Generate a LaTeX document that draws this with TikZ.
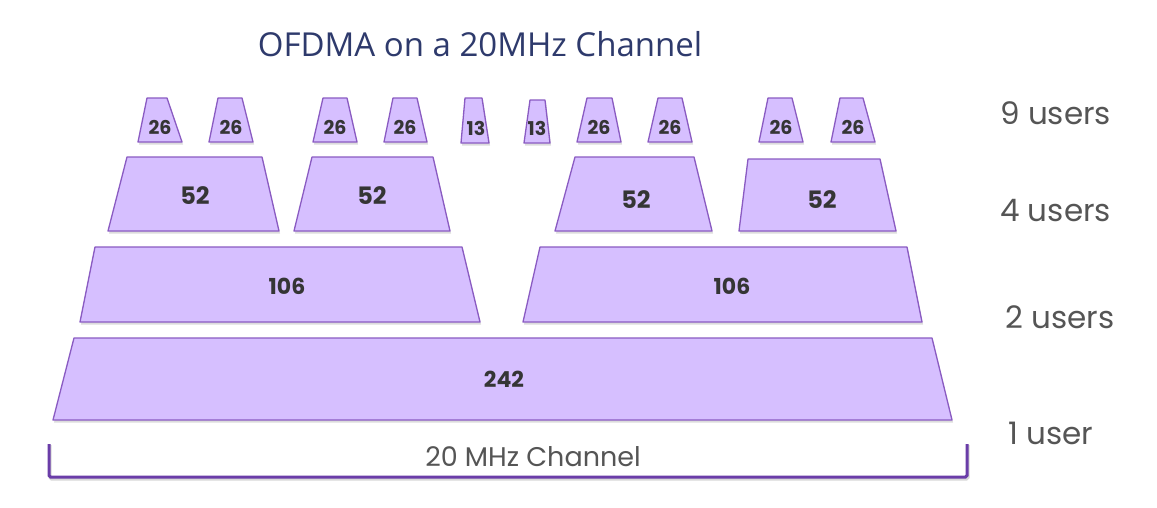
\documentclass[tikz,border=0pt]{standalone}
\usepackage{fontspec}
\setmainfont{Poppins}
\newfontfamily\titlefont{Open Sans}
\definecolor{rufill}{HTML}{D6BFFF}
\definecolor{rudraw}{HTML}{8A5BC2}
\definecolor{titlecol}{HTML}{2E3A6C}
\definecolor{txtgray}{HTML}{353535}
\definecolor{lblgray}{HTML}{555555}
\definecolor{brk}{HTML}{6A3DA8}
\newcommand\rutrap[6]{%
  \fill[black!30,opacity=0.45] (#1+1,#5+2) -- (#2+1,#5+2) -- (#4+1,#6+2.5) -- (#3+1,#6+2.5) -- cycle;
  \filldraw[fill=rufill,draw=rudraw,line width=1.3pt,line join=round] (#1,#5) -- (#2,#5) -- (#4,#6) -- (#3,#6) -- cycle;}
\tikzset{
  rulbl/.style={text=txtgray,font=\bfseries\fontsize{#1}{#1}\selectfont,inner sep=0pt},
  users/.style={text=lblgray,font=\fontsize{31}{31}\selectfont,anchor=west,inner sep=0pt},
}
\begin{document}
\begin{tikzpicture}[x=1pt,y=-1pt]
\useasboundingbox (0,0) rectangle (1157,507);
\fill[white] (0,0) rectangle (1157,507);
\node[text=titlecol,font=\titlefont\fontsize{33}{33}\selectfont,inner sep=0pt] (title) at (480,44) {OFDMA on a 20MHz Channel};
% row 1: 26-tone RUs
\rutrap{147}{167}{138}{182}{98}{142}
\rutrap{218}{242}{209}{253}{98}{142}
\rutrap{323}{347}{313}{357}{98}{142}
\rutrap{393}{417}{384}{427}{98}{142}
\rutrap{465}{482}{461}{489}{98}{143}
\rutrap{530}{545}{524}{550}{100}{143}
\rutrap{587}{612}{577}{621}{98}{142}
\rutrap{658}{682}{648}{692}{98}{142}
\rutrap{768}{792}{759}{803}{98}{142}
\rutrap{840}{863}{831}{875}{98}{142}
\node[rulbl=19] (a1) at (160,127) {26};
\node[rulbl=19] (a2) at (231,127) {26};
\node[rulbl=19] (a3) at (335,127) {26};
\node[rulbl=19] (a4) at (405,127) {26};
\node[rulbl=19] (a5) at (476,128) {13};
\node[rulbl=19] (a6) at (537,128) {13};
\node[rulbl=19] (a7) at (599,127) {26};
\node[rulbl=19] (a8) at (670,127) {26};
\node[rulbl=19] (a9) at (781,127) {26};
\node[rulbl=19] (a10) at (853,127) {26};
% row 2: 52-tone RUs
\rutrap{127}{262}{108}{279}{157}{231}
\rutrap{312}{433}{294}{450}{157}{231}
\rutrap{575}{694}{555}{712}{157}{231}
\rutrap{748}{880}{739}{896}{159}{231}
\node[rulbl=24] (b1) at (195,196) {52};
\node[rulbl=24] (b2) at (372,196) {52};
\node[rulbl=24] (b3) at (636,200) {52};
\node[rulbl=24] (b4) at (822,200) {52};
% row 3: 106-tone RUs
\rutrap{95}{462}{80}{480}{247}{322}
\rutrap{540}{907}{523}{922}{247}{322}
\node[rulbl=22] (c1) at (287,286) {106};
\node[rulbl=22] (c2) at (732,286) {106};
% row 4: 242-tone RU
\rutrap{74}{932}{53}{952}{338}{420}
\node[rulbl=22] (d1) at (504,379) {242};
% bracket
\draw[black!30,opacity=0.5,line width=3pt,rounded corners=1.5pt] (50,445) -- (50,479) -- (968,479) -- (968,445);
\draw[brk,line width=3pt,rounded corners=1.5pt] (49,444) -- (49,477) -- (967,477) -- (967,444);
\node[text=lblgray,font=\fontsize{27}{27}\selectfont,inner sep=0pt] (ch) at (533,457) {20 MHz Channel};
% user labels
\node[users] (u9) at (1000,113) {9 users};
\node[users] (u4) at (1000,211) {4 users};
\node[users] (u2) at (1005,317) {2 users};
\node[users] (u1) at (1008,433) {1 user};
\end{tikzpicture}
\end{document}
